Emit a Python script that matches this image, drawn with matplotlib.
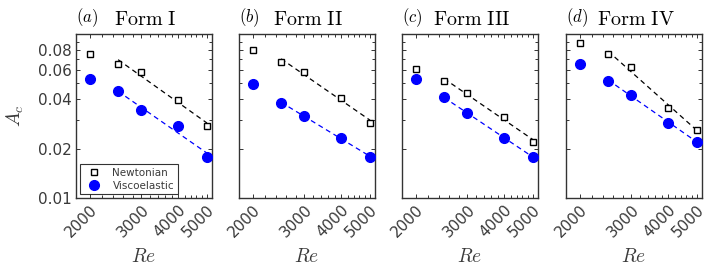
import numpy as np
import matplotlib
matplotlib.use("Agg")
import matplotlib.pyplot as plt
from matplotlib.ticker import FixedLocator, NullFormatter

plt.rcParams['mathtext.fontset'] = 'cm'
plt.rcParams['font.family'] = 'DejaVu Sans'

# Reynolds numbers
Re = [2000, 2500, 3000, 4000, 5000]

# critical amplitude
newt_I = [0.0754, 0.0655, 0.059, 0.0397, 0.0274]
visc_I = [0.053, 0.0447, 0.0342, 0.0273, 0.0178]
newt_II = [0.0798, 0.0673, 0.059, 0.0409, 0.0287]
visc_II = [0.0493, 0.0381, 0.0315, 0.0232, 0.0178]
newt_III = [0.0616, 0.0517, 0.0436, 0.0314, 0.0218]
visc_III = [0.0535, 0.0411, 0.0328, 0.0232, 0.0178]
newt_IV = [0.0877, 0.0754, 0.063, 0.0355, 0.026]
visc_IV = [0.0655, 0.052, 0.0424, 0.0287, 0.022]

letters = ['a', 'b', 'c', 'd']
forms = ['I', 'II', 'III', 'IV']
newt = [newt_I, newt_II, newt_III, newt_IV]
visc = [visc_I, visc_II, visc_III, visc_IV]

yticks = [0.01, 0.02, 0.04, 0.06, 0.08]
ytick_labels = ['0.01', '0.02', '0.04', '0.06', '0.08']
xticks = [2000, 3000, 4000, 5000]

fig = plt.figure(figsize=(7.2, 2.78), dpi=100)
lefts = [76, 239, 402, 566]
form_x = [0.28, 0.25, 0.23, 0.23]
grey = '#3a3a3a'
blue = '#0000ff'

for k in range(4):
    ax = fig.add_axes([lefts[k] / 720, 80 / 278, 136 / 720, 164 / 278])
    ax.set_xscale('log')
    ax.set_yscale('log')

    # power law fits over Re >= 2500
    x = np.array(Re[1:], dtype=float)
    xf = np.linspace(2500, 5000, 50)
    for ys, col in [(newt[k], 'k'), (visc[k], blue)]:
        p = np.polyfit(np.log(x), np.log(ys[1:]), 1)
        ax.plot(xf, np.exp(np.polyval(p, np.log(xf))), '--', color=col, lw=0.9, dashes=(4, 3))

    ax.plot(Re, newt[k], 's', mfc='white', mec='k', ms=5, mew=1.0, label='Newtonian', zorder=3)
    ax.plot(Re, visc[k], 'o', color=blue, ms=7, label='Viscoelastic', zorder=3)

    ax.set_xlim(1800, 5200)
    ax.set_ylim(0.01, 0.1)
    ax.xaxis.set_major_locator(FixedLocator(xticks))
    ax.xaxis.set_minor_locator(FixedLocator(list(range(1800, 5201, 200))))
    ax.xaxis.set_minor_formatter(NullFormatter())
    ax.set_xticklabels([str(t) for t in xticks], rotation=45, ha='right',
                       rotation_mode='anchor', fontsize=11, color=grey)
    ax.yaxis.set_major_locator(FixedLocator(yticks))
    ax.yaxis.set_minor_locator(FixedLocator([0.03, 0.05, 0.07, 0.09]))
    ax.yaxis.set_minor_formatter(NullFormatter())
    if k == 0:
        ax.set_yticklabels(ytick_labels, fontsize=11, color=grey)
    else:
        ax.set_yticklabels([])
    ax.tick_params(which='both', direction='in', top=True, right=True,
                   width=0.7, color='#333333')
    ax.tick_params(which='major', length=3, pad=3)
    ax.tick_params(which='minor', length=2)
    for s in ax.spines.values():
        s.set_color('#333333')
        s.set_linewidth(1.0)

    ax.text(0.0, 1.03, r'$(%s)$' % letters[k], transform=ax.transAxes,
            fontsize=12, va='bottom', ha='left')
    ax.text(form_x[k], 1.03, r'$\mathrm{Form\ %s}$' % forms[k], transform=ax.transAxes,
            fontsize=14.5, va='bottom', ha='left')
    fig.text((lefts[k] + 68) / 720, 1 - 257 / 278, r'$Re$', fontsize=14,
             ha='center', va='center', color=grey)

    if k == 0:
        leg = ax.legend(loc='lower left', fontsize=7.5, frameon=True, fancybox=False,
                        borderpad=0.35, handletextpad=0.8, labelspacing=0.25,
                        borderaxespad=0.35, edgecolor='k')
        leg.get_frame().set_linewidth(0.8)
        for t in leg.get_texts():
            t.set_color(grey)

fig.text(15 / 720, 1 - 116 / 278, r'$A_c$', fontsize=14, rotation=90,
         ha='center', va='center', color=grey)

fig.savefig('out.png', dpi=100)
